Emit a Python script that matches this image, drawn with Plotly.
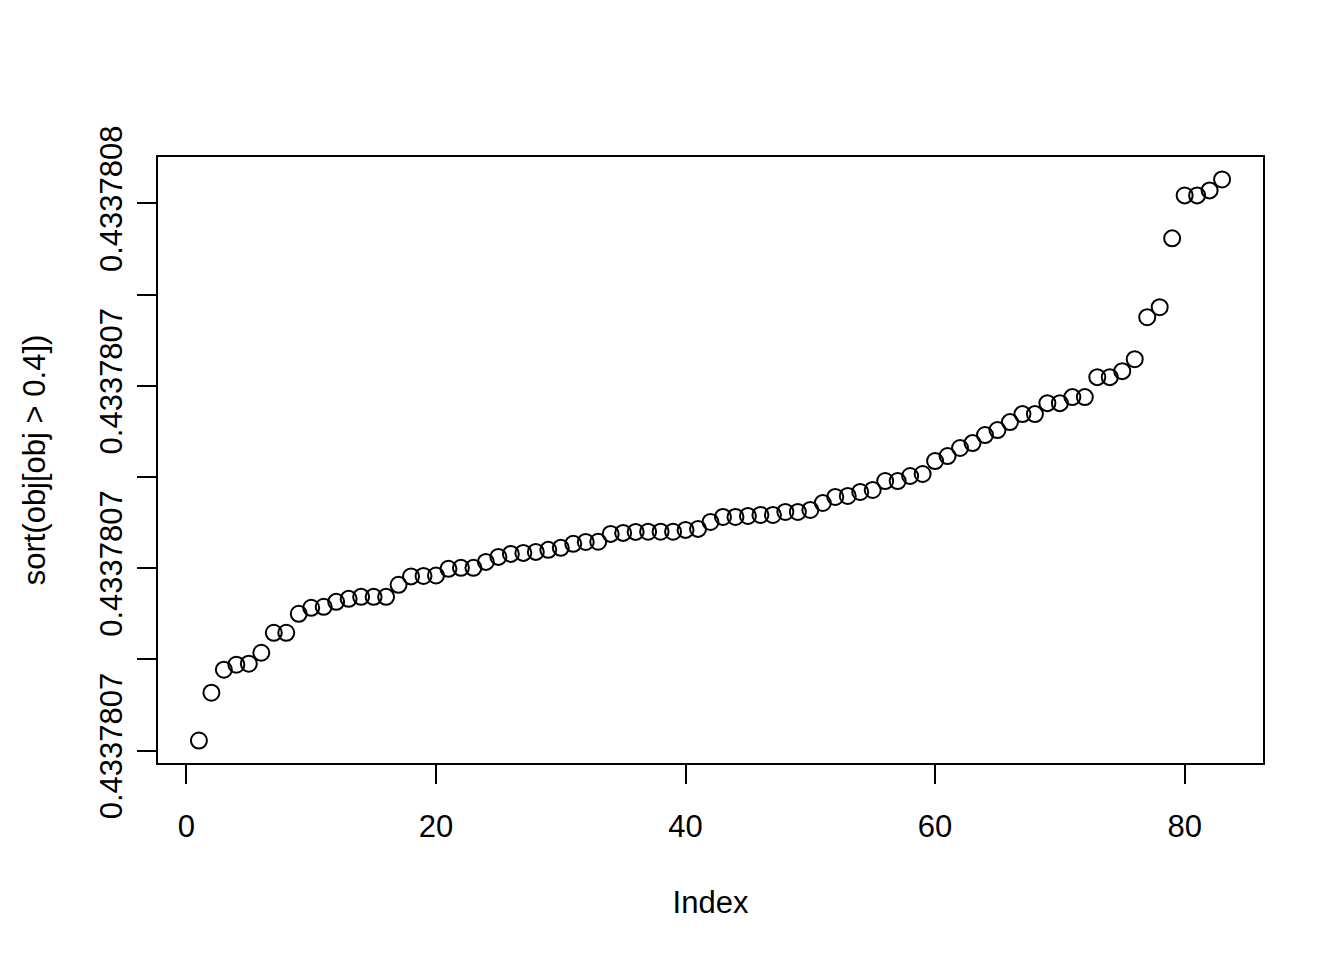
import plotly.graph_objects as go

# sorted values, stored as offsets above the base in units of 1e-10
base = 0.43378069
offsets = [1.1, 6.35, 8.87, 9.42, 9.53, 10.73, 12.92, 12.92, 15.0, 15.66,
           15.77, 16.31, 16.64, 16.86, 16.86, 16.86, 18.18, 19.1, 19.15, 19.2,
           19.93, 20.04, 20.04, 20.69, 21.24, 21.57, 21.68, 21.79, 22.01, 22.23,
           22.67, 22.88, 22.9, 23.76, 23.87, 23.98, 24.0, 24.0, 24.0, 24.2,
           24.31, 25.07, 25.62, 25.62, 25.73, 25.84, 25.84, 26.17, 26.17, 26.39,
           27.15, 27.81, 27.92, 28.36, 28.58, 29.56, 29.56, 30.11, 30.33, 31.75,
           32.30, 33.18, 33.72, 34.60, 35.15, 36.02, 36.90, 36.90, 38.10, 38.10,
           38.76, 38.76, 40.95, 40.95, 41.61, 42.92, 47.52, 48.62, 56.17, 60.88,
           60.88, 61.43, 62.63]
values = [base + o * 1e-10 for o in offsets]
index = list(range(1, len(values) + 1))

# y ticks every 1e-9, R only labels every other one
ytick_steps = [0, 1, 2, 3, 4, 5, 6]
ytick_labels = ["0.4337807", "", "0.4337807", "", "0.4337807", "", "0.4337808"]
xtick_vals = [0, 20, 40, 60, 80]

font = dict(family="Liberation Sans, Arial, sans-serif", size=31, color="black")

fig = go.Figure()
fig.add_trace(go.Scatter(
    x=index, y=values, mode="markers",
    marker=dict(symbol="circle-open", size=16, color="black",
                line=dict(width=2, color="black")),
    showlegend=False,
))

ylo = base - 1.36e-10
yhi = base + 65.09e-10
fig.update_layout(
    width=1344, height=960,
    margin=dict(l=150, r=89, t=149, b=205),
    paper_bgcolor="white", plot_bgcolor="white",
    font=font,
    xaxis=dict(range=[-2.28, 86.28], tickvals=xtick_vals,
               ticks="outside", ticklen=19, tickwidth=1.5, tickcolor="black",
               ticklabelstandoff=16,
               showline=True, mirror=True, linecolor="black", linewidth=1.5,
               showgrid=False, zeroline=False,
               title=dict(text="Index", font=font, standoff=48)),
    yaxis=dict(range=[ylo, yhi],
               tickvals=[base + s * 1e-9 for s in ytick_steps],
               ticktext=ytick_labels, tickangle=-90,
               ticks="outside", ticklen=19, tickwidth=1.5, tickcolor="black",
               ticklabelstandoff=3,
               showline=True, mirror=True, linecolor="black", linewidth=1.5,
               showgrid=False, zeroline=False,
               title=dict(text="sort(obj[obj > 0.4])", font=font, standoff=39)),
)

fig.write_html("out.html")
